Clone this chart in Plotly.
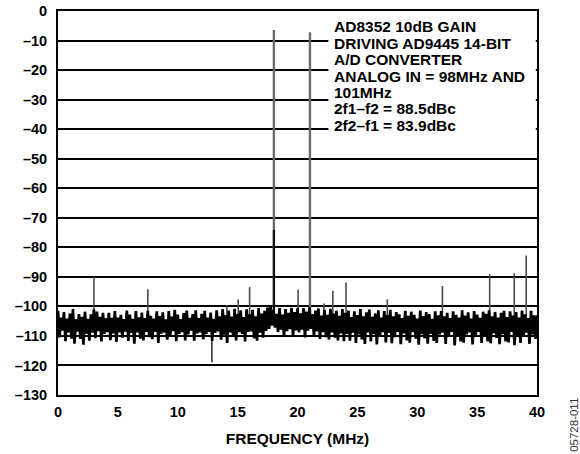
import numpy as np
import plotly.graph_objects as go

# ---------------- data ----------------
# noise floor envelope (dBFS), one pair per 0.25 MHz bin from 0 to 39.75 MHz
bin_step_mhz = 0.25
noise_hi = [
    -101.5, -103.8, -101.9, -104.1, -102.4, -100.9, -104.4, -102.6, -103.5, -101.8, -104.2, -102.7,
    -101.0, -101.8, -103.5, -102.2,
    -104.0, -102.2, -103.9, -101.6, -103.8, -102.9, -104.3, -101.4, -102.8, -104.2, -101.6, -103.7, -102.1, -104.0, -101.5, -103.2,
    -104.1, -101.7, -103.3, -102.0, -104.4, -101.6, -103.5, -101.2, -102.8, -104.3, -102.3, -101.4, -103.9, -102.6, -101.3, -104.0,
    -102.5, -101.5, -103.8, -102.1, -104.2, -101.3, -103.4, -100.9, -102.9, -101.4, -103.5, -100.8, -102.6, -101.3, -103.6, -101.0,
    -102.7, -101.2, -103.4, -100.6, -102.4, -101.5, -100.4, -100.0, -101.3, -102.5, -100.6, -102.8, -100.9, -102.2, -100.5, -101.9,
    -100.7, -102.4, -100.6, -101.8, -100.3, -102.6, -101.4, -100.7, -103.1, -101.2, -102.9, -100.8, -102.4, -101.5, -103.2, -100.9,
    -102.2, -101.4, -103.6, -101.7, -102.9, -100.9, -103.4, -102.0, -101.1, -103.5, -102.4, -101.3, -103.8, -101.6, -102.9, -101.2,
    -103.4, -101.9, -102.7, -104.0, -101.5, -103.2, -101.8, -102.9, -104.1, -101.4, -103.3, -101.9, -102.6, -104.2, -101.7, -103.0,
    -101.6, -103.4, -102.2, -104.0, -101.7, -102.9, -103.8, -101.3, -103.1, -102.0, -104.1, -101.6, -102.8, -103.9, -101.8, -102.5,
    -101.3, -103.4, -101.9, -103.8, -102.2, -101.5, -103.6, -101.7, -103.1, -101.9, -103.8, -101.4, -102.7, -104.0, -101.5, -103.0,
]
noise_lo = [
    -110.5, -108.2, -111.8, -108.8, -110.9, -112.6, -108.5, -111.0, -113.0, -109.2, -111.6, -108.9,
    -110.8, -108.4, -111.9, -109.3,
    -108.7, -111.4, -109.1, -112.0, -108.8, -110.6, -108.5, -111.7, -109.0, -112.6, -108.8, -110.9, -111.5, -108.6, -110.4, -111.1,
    -108.5, -112.4, -109.2, -108.9, -111.3, -109.7, -108.4, -111.8, -109.3, -108.7, -111.5, -109.5, -108.2, -111.6, -109.1, -108.8,
    -111.2, -109.4, -108.6, -111.7, -109.0, -108.5, -111.3, -109.6, -112.4, -108.8, -109.9, -111.5, -108.7, -109.3, -111.9, -108.6,
    -108.5, -110.8, -111.6, -108.9, -110.6, -108.3, -107.6, -106.5, -107.2, -108.6, -107.9, -110.2, -108.4, -107.7, -110.0, -108.1,
    -108.8, -107.9, -110.5, -108.2, -107.6, -110.1, -108.5, -111.0, -108.7, -110.4, -111.2, -108.8, -110.6, -111.5, -109.1, -111.8,
    -109.3, -111.6, -108.9, -112.4, -109.5, -111.2, -112.7, -108.8, -111.9, -109.4, -112.9, -110.3, -108.7, -112.2, -109.0, -112.5,
    -110.4, -108.6, -112.8, -109.1, -111.5, -112.3, -108.7, -110.9, -113.0, -109.4, -110.8, -112.6, -109.2, -111.7, -112.4, -109.5,
    -108.9, -112.7, -110.3, -108.6, -113.2, -109.8, -111.9, -112.3, -109.5, -108.8, -112.9, -110.2, -108.6, -112.4, -109.7, -111.9,
    -112.5, -109.1, -110.7, -112.8, -109.4, -111.9, -112.2, -108.6, -113.1, -109.8, -112.4, -110.3, -108.9, -112.7, -109.5, -111.0,
]

# spurs: frequency (MHz) and level (dBFS)
spur_freq = [3.0, 7.5, 14.1, 15.05, 16.0, 20.05, 22.2, 22.95, 24.05, 27.5, 32.1, 36.05, 38.1, 39.1]
spur_level = [-90.0, -94.2, -99.5, -97.6, -93.5, -94.4, -99.0, -94.7, -91.9, -97.6, -93.1, -89.1, -88.8, -82.8]
spur_base = -104.0

# downward noise spike
dip_freq = [12.85]
dip_level = [-118.9]
dip_base = -108.0

# carriers (98 MHz and 101 MHz aliased)
carrier_freq = [18.03, 21.04]
carrier_level = [-6.4, -7.2]
carrier_inner_level = [-74.1, -101.0]

y_ticks = [0, -10, -20, -30, -40, -50, -60, -70, -80, -90, -100, -110, -120, -130]
y_ticktext = ["0", "–10", "–20", "–30", "–40", "–50", "–60", "–70", "–80", "–90", "–100", "–110", "–120", "–130"]
x_ticks = [0, 5, 10, 15, 20, 25, 30, 35, 40]

note_lines = [
    "AD8352 10dB GAIN",
    "DRIVING AD9445 14-BIT",
    "A/D CONVERTER",
    "ANALOG IN = 98MHz AND",
    "101MHz",
    "2f1–f2 = 88.5dBc",
    "2f2–f1 = 83.9dBc",
]

# ---------------- build ----------------
nx, ny = [], []
for i, (h, l) in enumerate(zip(noise_hi, noise_lo)):
    f = i * bin_step_mhz
    nx += [f, f + bin_step_mhz / 2]
    ny += [h, l]
nx.append(40.0)
ny.append(noise_hi[-1])

def stems(freqs, tops, base):
    xs, ys = [], []
    for f, t in zip(freqs, tops):
        xs += [f, f, None]
        ys += [base, t, None]
    return xs, ys

fig = go.Figure()

cx, cy = stems(carrier_freq, carrier_level, -104.0)
fig.add_trace(go.Scatter(x=cx, y=cy, mode="lines", line=dict(color="#6a6a6a", width=2.4),
                         hoverinfo="skip", showlegend=False))
ix, iy = stems(carrier_freq, carrier_inner_level, -104.0)
fig.add_trace(go.Scatter(x=ix, y=iy, mode="lines", line=dict(color="#111111", width=2.2),
                         hoverinfo="skip", showlegend=False))
sx, sy = stems(spur_freq, spur_level, spur_base)
fig.add_trace(go.Scatter(x=sx, y=sy, mode="lines", line=dict(color="#4a4a4a", width=1.6),
                         hoverinfo="skip", showlegend=False))
dx, dy = stems(dip_freq, dip_level, dip_base)
fig.add_trace(go.Scatter(x=dx, y=dy, mode="lines", line=dict(color="#333333", width=1.6),
                         hoverinfo="skip", showlegend=False))
fig.add_trace(go.Scatter(x=nx, y=ny, mode="lines", line=dict(color="#000000", width=2.7),
                         hoverinfo="skip", showlegend=False))

FAM = "Arial, Liberation Sans, sans-serif"
font_tick = dict(family=FAM, size=14.5, color="#000000", weight="bold")
font_txt = dict(family=FAM, size=15.5, color="#000000", weight="bold")

fig.update_layout(
    width=580, height=454,
    margin=dict(l=58, r=43, t=11, b=59, autoexpand=False),
    paper_bgcolor="white", plot_bgcolor="white",
    showlegend=False,
    xaxis=dict(range=[0, 40], tickvals=x_ticks, ticktext=[str(v) for v in x_ticks],
               showgrid=False, zeroline=False, showline=True, linecolor="#000", linewidth=2,
               mirror=True, ticks="", tickfont=font_tick, ticklabelstandoff=3, automargin=False,
               title=dict(text="FREQUENCY (MHz)", font=font_txt, standoff=14)),
    yaxis=dict(range=[-130, 0], tickvals=y_ticks, ticktext=y_ticktext,
               showgrid=True, gridcolor="#000", gridwidth=1.5, zeroline=False,
               showline=True, linecolor="#000", linewidth=2, mirror=True, ticks="",
               tickfont=font_tick, ticklabelstandoff=6, automargin=False),
)

# blank area behind the note (covers gridlines)
fig.add_shape(type="rect", xref="x", yref="y", x0=22.58, x1=39.9, y0=-44, y1=-1.0,
              fillcolor="white", line=dict(width=0), layer="between")

plot_top_px, plot_h_px = 11, 384
for k, line in enumerate(note_lines):
    cy_px = 27 + 16.4 * k
    fig.add_annotation(xref="paper", yref="paper", x=0.572, y=1 - (cy_px - plot_top_px) / plot_h_px,
                       xanchor="left", yanchor="middle", align="left", showarrow=False,
                       text=line, font=font_txt)

fig.add_annotation(xref="paper", yref="paper", x=1.077, y=-0.078, xanchor="center", yanchor="middle",
                   textangle=-90, showarrow=False, text="05728-011",
                   font=dict(family=FAM, size=11.5, color="#333333"))

fig.write_html("out.html")
